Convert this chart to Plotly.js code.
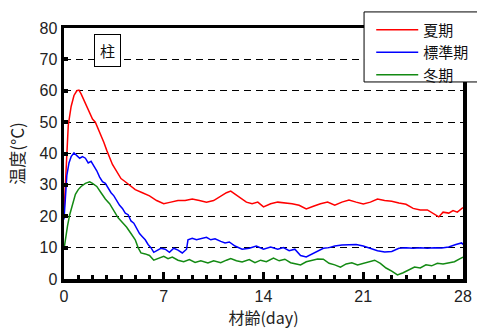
<!DOCTYPE html>
<html><head><meta charset="utf-8">
<script src="https://cdn.plot.ly/plotly-3.0.1.min.js"></script>
<style>html,body{margin:0;padding:0;background:#fff}#c{width:477px;height:331px}</style>
</head><body><div id="c"></div>
<script>
// Summer (夏期)
const summerDay = [0,0.1,0.2,0.3,0.5,0.7,0.9,1.05,1.2,1.4,1.6,1.8,2.0,2.2,2.4,2.6,2.8,3.0,3.2,3.4,3.6,3.8,4.0,4.3,4.6,5.0,5.5,6.0,6.5,7.0,7.5,8.0,8.5,9.0,9.5,10.0,10.5,11.0,11.4,11.7,12.0,12.4,12.8,13.2,13.6,14.0,14.5,15.0,15.5,16.0,16.5,17.0,17.5,18.0,18.5,19.0,19.5,20.0,20.5,21.0,21.5,22.0,22.5,23.0,23.5,24.0,24.5,25.0,25.5,26.0,26.3,26.6,27.0,27.3,27.6,28.0];
const summerTemp = [21,32,42,49,55,58.5,60,60.2,59,57,55,52.5,51,50,48,46,43.5,41,38.5,36.5,35,33.5,32,31,30,28.5,27.5,26.5,25,24,24.5,25,25,25.5,25,24.5,25,26.5,27.5,28,27,25.8,24.5,24,24.5,23,24,24.5,24.3,24,23.5,22.3,23.2,24,24.5,23.5,24.5,25.2,24.5,23.9,24.5,25.5,25,24.8,24.2,23.8,22.5,22,22,20.5,19.8,21.3,21,21.8,21.3,22.8];
// Standard (標準期)
const standardDay = [0,0.1,0.2,0.35,0.5,0.7,0.9,1.1,1.3,1.5,1.7,1.9,2.1,2.3,2.5,2.7,2.9,3.1,3.3,3.5,3.7,3.9,4.1,4.3,4.5,4.7,4.9,5.1,5.3,5.5,5.7,5.9,6.1,6.3,6.5,6.8,7.1,7.4,7.7,8.0,8.3,8.6,8.7,9.0,9.3,9.6,10.0,10.3,10.6,11.0,11.3,11.6,12.0,12.5,13.0,13.5,14.0,14.5,15.0,15.4,15.8,16.2,16.6,17.0,17.4,17.8,18.2,18.6,19.0,19.5,20.0,20.5,21.0,21.5,22.0,22.5,23.0,23.5,24.0,24.5,25.0,25.5,26.0,26.5,27.0,27.5,27.9,28.0];
const standardTemp = [19,27,33,37,39,40.2,39.5,38.5,39,38.5,37,37.5,36,34.5,32.5,31,30.5,29,27.5,26.5,25,23.5,22.5,21,20.5,18.5,17.8,16,14.5,13.5,12.5,11,10,8.5,9,9.8,9.5,8.5,9.8,9.2,8.3,9.5,12.5,13,12.5,12.8,13.3,12.5,12.8,12,11.5,11.8,10.5,9.5,9.8,10.5,9.5,10.2,9.5,10,9,9.5,7.5,7,8,9,9.8,10,10.5,10.8,10.8,11,10.5,9.8,9,8.6,8.8,9.8,10,9.8,10,9.8,10,9.9,10.2,11,11.5,11];
// Winter (冬期)
const winterDay = [0,0.1,0.25,0.4,0.6,0.8,1.0,1.2,1.5,1.8,2.0,2.3,2.6,2.9,3.2,3.5,3.8,4.1,4.4,4.7,5.0,5.2,5.4,5.7,6.0,6.3,6.6,7.0,7.3,7.6,8.0,8.4,8.8,9.2,9.6,10.1,10.5,11.0,11.4,11.7,12.1,12.5,13.0,13.4,13.8,14.2,14.7,15.1,15.5,15.9,16.3,16.6,17.0,17.4,17.8,18.2,18.6,19.0,19.4,19.8,20.2,20.6,21.0,21.4,21.8,22.2,22.6,23.0,23.4,23.8,24.2,24.6,25.0,25.4,25.8,26.2,26.6,27.0,27.4,27.8,28.0];
const winterTemp = [9.5,13,17,20.5,24,27,28.5,29.5,30.5,31,30.5,29.5,27.5,25.5,24,21.5,19.5,18,16.5,14.5,12.5,10,8.3,8,7.5,6,6.5,7.2,6.5,7,6,5.5,6.2,5.3,5.8,5.1,5.8,5.2,6,6.5,5.8,5.4,6.2,5.2,6,5.5,6.7,5.8,6.3,5.2,4.8,4.5,5.5,6,6.4,6.3,5,4.5,3.8,4.8,5.2,4.5,5,5.6,6,5,3.5,2.5,1.3,2,3,3.8,3.5,4.5,4.2,5,4.8,5.1,5.5,6.5,7];

const seriesNames = ['夏期','標準期','冬期'];
const xTickVals = [0,7,14,21,28];
const yTickVals = [0,10,20,30,40,50,60,70,80];

const cjk = '"Noto Sans CJK JP", "Liberation Sans", sans-serif';
const latin = '"Liberation Sans", Arial, sans-serif';

const traces = [
  {x: summerDay, y: summerTemp, name: seriesNames[0], mode: 'lines', line: {color: '#ff0000', width: 1.5}},
  {x: standardDay, y: standardTemp, name: seriesNames[1], mode: 'lines', line: {color: '#0000ff', width: 1.5}},
  {x: winterDay, y: winterTemp, name: seriesNames[2], mode: 'lines', line: {color: '#138a13', width: 1.5}}
];

const layout = {
  width: 477, height: 331,
  margin: {l: 64, r: 14, t: 28, b: 52, autoexpand: false},
  paper_bgcolor: '#fff', plot_bgcolor: '#fff',
  showlegend: true,
  legend: {
    x: 0.77, y: 1.058, xanchor: 'left', yanchor: 'top',
    bgcolor: 'rgba(0,0,0,0)', borderwidth: 0,
    itemwidth: 42,
    font: {family: cjk, size: 15, color: '#111'}
  },
  shapes: [{
    type: 'rect', xref: 'paper', yref: 'paper', layer: 'above',
    x0: 0.752, x1: 1.04, y0: 0.785, y1: 1.064,
    line: {color: '#000', width: 1}, fillcolor: '#fff'
  }],
  xaxis: {
    range: [0, 28], tickvals: xTickVals, ticktext: xTickVals.map(String),
    showgrid: false, zeroline: false,
    showline: true, linecolor: '#000', linewidth: 3.5, mirror: true,
    ticks: 'inside', ticklen: 7, tickwidth: 3, tickcolor: '#000',
    minor: {dtick: 1, tick0: 0, ticks: 'inside', ticklen: 4, tickwidth: 3, tickcolor: '#000', showgrid: false},
    tickfont: {family: latin, size: 16, color: '#222'},
    title: {text: '材齢(day)', font: {family: cjk, size: 16, color: '#222'}, standoff: 9}
  },
  yaxis: {
    range: [0, 80], tickvals: yTickVals, ticktext: yTickVals.map(String),
    showgrid: true, gridcolor: '#000', gridwidth: 1, griddash: '7px,5px',
    zeroline: false,
    showline: true, linecolor: '#000', linewidth: 3.5, mirror: true,
    ticks: 'inside', ticklen: 4, tickwidth: 4, tickcolor: '#000',
    tickfont: {family: latin, size: 16, color: '#222'},
    title: {text: '温度(°C)', font: {family: cjk, size: 17, color: '#222'}, standoff: 11}
  },
  annotations: [{
    xref: 'paper', yref: 'paper', x: 0.108, y: 0.909, xanchor: 'center', yanchor: 'middle',
    text: '柱', showarrow: false,
    font: {family: cjk, size: 15, color: '#111'},
    bordercolor: '#000', borderwidth: 1, borderpad: 5, bgcolor: '#fff'
  }]
};

Plotly.newPlot('c', traces, layout, {displayModeBar: false, staticPlot: true});
</script>
</body></html>
